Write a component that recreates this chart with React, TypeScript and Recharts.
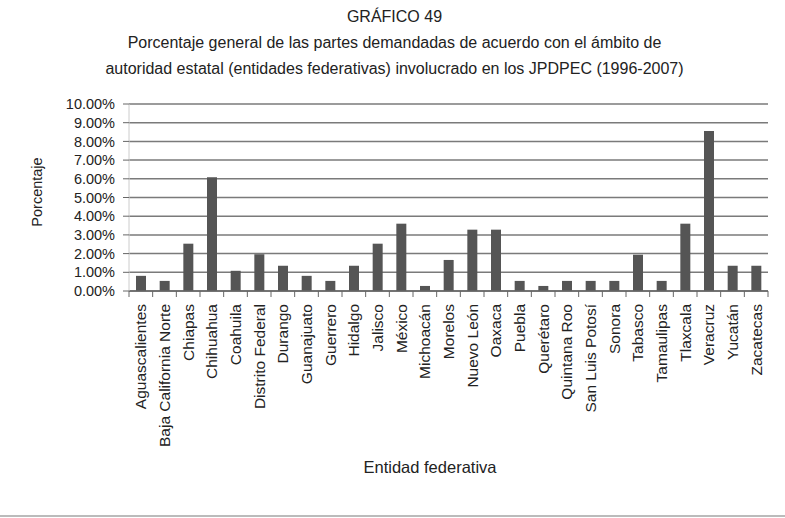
import { BarChart, Bar, XAxis, YAxis, CartesianGrid } from "recharts"

const estados = [
  "Aguascalientes", "Baja California Norte", "Chiapas", "Chihuahua", "Coahuila",
  "Distrito Federal", "Durango", "Guanajuato", "Guerrero", "Hidalgo", "Jalisco",
  "México", "Michoacán", "Morelos", "Nuevo León", "Oaxaca", "Puebla", "Querétaro",
  "Quintana Roo", "San Luis Potosí", "Sonora", "Tabasco", "Tamaulipas", "Tlaxcala",
  "Veracruz", "Yucatán", "Zacatecas",
]

// porcentaje de partes demandadas por entidad
const porcentajes = [
  0.81, 0.54, 2.53, 6.08, 1.08, 1.96, 1.35, 0.81, 0.54, 1.35, 2.53,
  3.6, 0.27, 1.66, 3.28, 3.28, 0.54, 0.27, 0.54, 0.54, 0.54, 1.94,
  0.54, 3.6, 8.56, 1.35, 1.35,
]

const yTicks = [0, 1, 2, 3, 4, 5, 6, 7, 8, 9, 10]

const data = estados.map((estado, i) => ({ estado, valor: porcentajes[i] }))

const FONT = "'Liberation Sans', Arial, sans-serif"
const PLOT_LEFT = 129
const PLOT_RIGHT = 768
const STEP = (PLOT_RIGHT - PLOT_LEFT) / estados.length

const EstadoTick = (props: any) => {
  const { x, y, payload, index } = props
  return (
    <g>
      <line x1={x - STEP / 2} x2={x - STEP / 2} y1={y} y2={y + 6} stroke="#666" />
      {index === estados.length - 1 && (
        <line x1={x + STEP / 2} x2={x + STEP / 2} y1={y} y2={y + 6} stroke="#666" />
      )}
      <text
        transform={`translate(${x},${y + 13}) rotate(-90)`}
        textAnchor="end"
        dy="0.35em"
        fontSize={15.5}
        fill="#222"
        fontFamily={FONT}
      >
        {payload.value}
      </text>
    </g>
  )
}

export default function App() {
  return (
    <div style={{ position: "absolute", left: 0, top: 0, width: 785, height: 518, background: "#fff", fontFamily: FONT, color: "#222" }}>
      <div style={{ position: "absolute", left: 0, width: 785, top: 4, textAlign: "center", fontSize: 16, lineHeight: "26px" }}>
        <div style={{ marginLeft: 4 }}>GRÁFICO 49</div>
        <div style={{ marginLeft: 4 }}>Porcentaje general de las partes demandadas de acuerdo con el ámbito de</div>
        <div style={{ marginLeft: 4 }}>autoridad estatal (entidades federativas) involucrado en los JPDPEC (1996-2007)</div>
      </div>
      <div style={{ position: "absolute", left: 37, top: 192, transform: "translate(-50%, -50%) rotate(-90deg)", fontSize: 14.5, whiteSpace: "nowrap" }}>
        Porcentaje
      </div>
      <div style={{ position: "absolute", left: 430, top: 467, transform: "translate(-50%, -50%)", fontSize: 16.5, whiteSpace: "nowrap" }}>
        Entidad federativa
      </div>
      <div style={{ position: "absolute", left: 0, top: 515, width: 785, height: 2, background: "#bbb" }} />
      <BarChart
        width={785}
        height={518}
        data={data}
        margin={{ top: 104, right: 785 - PLOT_RIGHT, left: 0, bottom: 0 }}
        barSize={10}
      >
        <CartesianGrid horizontal vertical={false} stroke="#7a7a7a" strokeWidth={1.5} />
        <XAxis
          dataKey="estado"
          interval={0}
          height={227}
          tick={<EstadoTick />}
          tickLine={false}
          tickSize={0}
          tickMargin={0}
          axisLine={{ stroke: "#666", strokeWidth: 1.5 }}
        />
        <YAxis
          width={PLOT_LEFT}
          domain={[0, 10]}
          ticks={yTicks}
          interval={0}
          tickFormatter={(v: number) => v.toFixed(2) + "%"}
          tick={{ fontSize: 14.5, fill: "#222", fontFamily: FONT }}
          tickLine={{ stroke: "#666" }}
          tickSize={6}
          tickMargin={8}
          axisLine={{ stroke: "#ccc" }}
        />
        <Bar dataKey="valor" fill="#555555" isAnimationActive={false} />
      </BarChart>
    </div>
  )
}
